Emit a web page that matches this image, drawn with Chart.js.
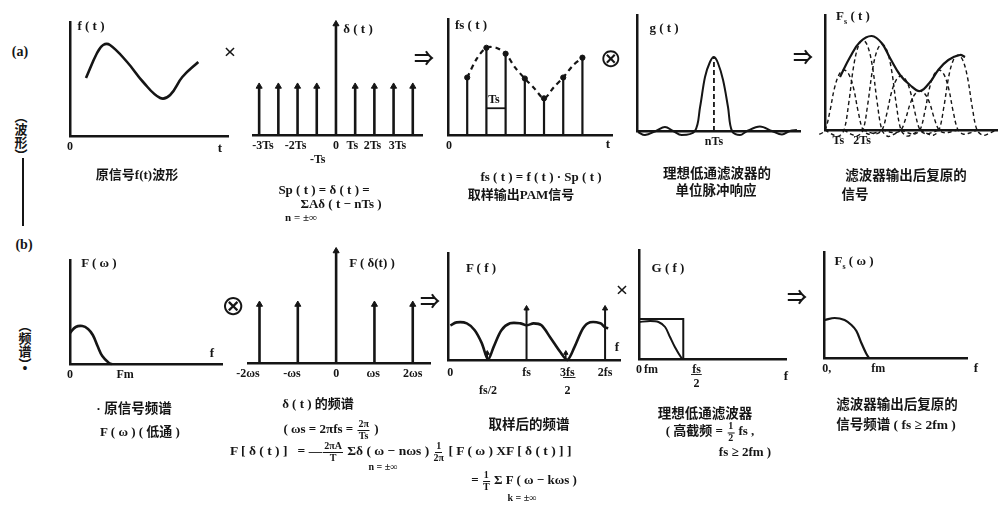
<!DOCTYPE html>
<html>
<head>
<meta charset="utf-8">
<script src="https://cdn.jsdelivr.net/npm/chart.js@4.4.1/dist/chart.umd.min.js"></script>
<style>
  body { margin: 0; width: 1003px; height: 506px; background: #fff; position: relative; overflow: hidden; color: #151515; }
  canvas { position: absolute; }
  .t { position: absolute; transform: translate(-50%, -50%); white-space: nowrap; line-height: 1;
       font: bold 13px 'Liberation Serif', 'Noto Sans CJK SC', serif; }
  .t.left { transform: translate(0, -50%); }
  .t.op { font-family: 'DejaVu Sans'; font-weight: normal; }
  .fr { display: inline-flex; flex-direction: column; align-items: center; vertical-align: middle;
        font-size: 10px; line-height: 1.05; margin: 0 1px; }
  .fr > span:first-child { border-bottom: 1.3px solid #151515; padding: 0 1px; }
  .vt { writing-mode: vertical-rl; font-family: 'Noto Sans CJK SC'; }
</style>
</head>
<body>
<script>
// ---- (a) 波形 ----
const a1T = [0.84, 1.42, 1.74, 2.1, 3.0, 3.84, 4.74, 5.26, 5.9, 6.74];
const a1F = [58, 83, 91, 91, 74, 54, 38, 41, 59, 74];

const a2N = [-4, -3, -2, -1, 0, 1, 2, 3, 4];
const a2H = [49, 49, 49, 49, 112, 49, 49, 49, 49];
const a2TickPos = [-3.8, -2.1, -0.95, 0, 0.85, 1.9, 3.2];
const a2TickLab = ['-3Ts', '-2Ts', ['', '-Ts'], '0', 'Ts', '2Ts', '3Ts'];

const a3N = [1, 2, 3, 4, 5, 6, 7];
const a3H = [58, 88, 82, 57, 37, 58, 78];
const a3EnvT = [1, 1.5, 2, 2.5, 3, 3.5, 4, 4.5, 5, 5.5, 6, 6.5, 7];
const a3EnvH = [58, 77, 88, 88, 82, 68, 57, 47, 37, 48, 58, 70, 78];

const a4T = [0.05, 0.42, 1.0, 1.47, 1.9, 2.35, 3.05, 3.32, 3.58, 3.84, 4.05, 4.26, 4.53, 4.79, 5.0, 5.42, 5.79, 6.47, 7.1, 7.63, 8.05, 8.42];
const a4G = [-1, -4, 0, 4, 0, -4, 0, 24, 54, 69, 74, 68, 51, 24, 0, -4, 0, 4.5, 0, -3.5, 0, 1];

const a5EnvT = [0.79, 1.32, 1.84, 2.46, 2.98, 3.42, 3.95, 4.47, 5.0, 5.53, 5.96, 6.49, 7.1, 7.37];
const a5EnvH = [53, 73, 88, 94, 87, 72, 55, 45, 39, 48, 60, 70, 75, 73];
const a5N = [1, 2, 3, 4, 5, 6, 7];
const a5H = [60, 90, 86, 54, 39, 60, 75];
// 单位脉冲响应的形状 (读自 g(t) 图)
const pulseOff = [-2, -1.6, -1.3, -1, -0.75, -0.5, -0.25, 0, 0.25, 0.5, 0.75, 1, 1.3, 1.6, 2];
const pulseRel = [0, -0.05, -0.07, 0, 0.3, 0.7, 0.93, 1, 0.93, 0.7, 0.3, 0, -0.07, -0.05, 0];

// ---- (b) 频谱 ----
const b1F = [0, 0.3, 0.65, 0.95, 1.2, 1.45, 1.7, 2.05, 2.2];
const b1A = [31, 37, 38, 35, 29, 18, 8, 1, 0];

const b2N = [-2, -1, 0, 1, 2];
const b2H = [59, 59, 113, 59, 59];
const b2TickPos = [-2.3, -1.15, 0, 0.97, 2];
const b2TickLab = ['-2ωs', '-ωs', '0', 'ωs', '2ωs'];

const b3F = [0.03, 0.11, 0.24, 0.34, 0.43, 0.51, 0.58, 0.68, 0.79, 0.92, 1.0, 1.09, 1.19, 1.3, 1.43, 1.52, 1.61, 1.72, 1.81, 1.94, 2.0, 2.04];
const b3A = [35, 38, 37, 30, 17, 0.5, 13, 30, 37, 37, 35, 37, 35, 23, 8, 0, 13, 32, 38, 37, 33, 32];
const b3Imp = [1, 2];
const b3ImpH = [52, 52];
const b3Mark = [0.5, 1.5];
const b3MarkH = [7, 7];
const b3TickPos = [0.03, 0.51, 1.0, 1.52, 2.0];
const b3TickLab = ['0', ['', 'fs/2'], 'fs', ['3\u0332f\u0332s\u0332', '2'], '2fs'];

const b4RectF = [0, 1, 1];
const b4RectA = [40, 40, 0];
const b4F = [0, 0.25, 0.44, 0.59, 0.7, 0.81, 0.96, 1.0];
const b4A = [37, 38, 37, 32, 22, 12, 1, 0];
const b4TickPos = [0, 0.27, 1.3];
const b4TickLab = ['0', 'fm', ['f\u0332s\u0332', '2']];

const b5F = [0.04, 0.56, 1.08, 1.44, 1.7, 1.96, 2.2, 2.36];
const b5A = [38, 40, 38, 33, 27, 15, 5, 0];

const INK = '#151515';
Chart.defaults.font.family = "'Liberation Serif', 'DejaVu Serif', serif";
Chart.defaults.font.weight = 'bold';
Chart.defaults.font.size = 12;
Chart.defaults.color = INK;
Chart.defaults.animation = false;
Chart.defaults.plugins.legend.display = false;
Chart.defaults.plugins.tooltip.enabled = false;

function curve(xs, ys, opt) {
  return Object.assign({
    data: xs.map((x, i) => ({ x: x, y: ys[i] })),
    borderColor: INK, borderWidth: 2.3, tension: 0.4, pointRadius: 0, fill: false, clip: false
  }, opt || {});
}
function stems(xs, ys, opt) {
  const d = [];
  xs.forEach((x, i) => { d.push({ x: x, y: 0 }, { x: x, y: ys[i] }, { x: x, y: null }); });
  return Object.assign({ data: d, borderColor: INK, borderWidth: 2.6, tension: 0, pointRadius: 0, clip: false }, opt || {});
}
function tips(xs, ys, style, r) {
  return {
    data: xs.map((x, i) => ({ x: x, y: ys[i] })), showLine: false,
    pointStyle: style || 'triangle', pointRadius: r || 3.5,
    backgroundColor: INK, borderColor: INK, borderWidth: 1, clip: false
  };
}

// 每个小图一个 canvas, 绘图区 = 坐标轴所在位置
function panel(g, xMin, xMax, yMax, datasets, tickPos, tickLab, opt) {
  opt = opt || {};
  const padL = 24, padR = 12, padT = 4, axisH = 44;
  const cv = document.createElement('canvas');
  cv.width = g.r - g.l + padL + padR;
  cv.height = g.b - g.t + padT + axisH;
  cv.style.left = (g.l - padL) + 'px';
  cv.style.top = (g.t - padT) + 'px';
  document.body.appendChild(cv);
  new Chart(cv, {
    type: 'line',
    data: { datasets: datasets },
    options: {
      responsive: false,
      devicePixelRatio: 1,
      layout: { padding: { left: padL, right: padR, top: padT, bottom: 0 } },
      scales: {
        x: {
          type: 'linear', min: xMin, max: xMax,
          grid: { display: false, drawTicks: false },
          border: { display: true, color: INK, width: 2.5 },
          afterBuildTicks: ax => { ax.ticks = tickPos.map(v => ({ value: v })); },
          afterFit: s => { s.height = axisH; },
          ticks: {
            autoSkip: false, maxRotation: 0, padding: 4,
            font: { lineHeight: opt.lineHeight || 1.15 },
            callback: (v, i) => tickLab[i]
          }
        },
        y: {
          min: 0, max: yMax,
          grid: { display: false, drawTicks: false },
          ticks: { display: false },
          border: { display: opt.yAxis !== false, color: INK, width: 2.5 },
          afterFit: s => { s.width = 0; }
        }
      }
    }
  });
}

// (a) 行
panel({ l: 70, r: 228, t: 22, b: 136 }, 0, 8.3, 114,
  [curve(a1T, a1F, { borderWidth: 2.6 })], [0], ['0']);

panel({ l: 253, r: 422, t: 23, b: 135 }, -4.32, 4.48, 112,
  [stems(a2N, a2H), tips(a2N, a2H, 'triangle', 3.5)], a2TickPos, a2TickLab, { yAxis: false });

panel({ l: 448, r: 612, t: 18, b: 135 }, 0, 8.54, 117,
  [stems(a3N, a3H, { borderWidth: 2.2 }),
   curve(a3EnvT, a3EnvH, { borderDash: [5, 4], borderWidth: 2.2, tension: 0.3 }),
   tips(a3N, a3H, 'circle', 2.6),
   curve([2, 3], [27, 27], { borderWidth: 1.8, tension: 0 })],
  [0.05], ['0']);

panel({ l: 637, r: 800, t: 15, b: 131 }, 0, 8.58, 116,
  [curve(a4T, a4G, { borderWidth: 2, tension: 0.35 }),
   curve([4.05, 4.05], [0, 74], { borderDash: [5, 3], borderWidth: 1.8, tension: 0 })],
  [4.05], ['nTs']);

const a5Pulses = a5N.map((n, i) => curve(pulseOff.map(o => n + o), pulseRel.map(r => r * a5H[i]),
  { borderDash: [4, 3], borderWidth: 1.4, tension: 0.35 }));
panel({ l: 825, r: 997, t: 15, b: 130 }, 0, 9.05, 115,
  [curve(a5EnvT, a5EnvH, { borderWidth: 2.2 })].concat(a5Pulses),
  [0.7, 1.95], ['Ts', '2Ts']);

// (b) 行
panel({ l: 70, r: 222, t: 260, b: 364 }, 0, 8, 104,
  [curve(b1F, b1A, { borderWidth: 2.6 })], [0, 2.9], ['0', 'Fm']);

panel({ l: 248, r: 430, t: 250, b: 363 }, -2.3, 2.45, 113,
  [stems(b2N, b2H), tips(b2N, b2H, 'triangle', 3.5)], b2TickPos, b2TickLab, { yAxis: false });

panel({ l: 448, r: 620, t: 252, b: 360 }, 0, 2.19, 108,
  [curve(b3F, b3A, { borderWidth: 2.6, tension: 0.3 }),
   stems(b3Imp, b3ImpH, { borderWidth: 2 }), tips(b3Imp, b3ImpH, 'triangle', 3),
   stems(b3Mark, b3MarkH, { borderWidth: 1.5 }), tips(b3Mark, b3MarkH, 'triangle', 2.5)],
  b3TickPos, b3TickLab, { lineHeight: 1.5 });

panel({ l: 639, r: 786, t: 250, b: 359 }, 0, 3.32, 109,
  [curve(b4RectF, b4RectA, { borderWidth: 2, tension: 0 }),
   curve(b4F, b4A, { borderWidth: 2, tension: 0.3 })],
  b4TickPos, b4TickLab);

panel({ l: 824, r: 967, t: 252, b: 358 }, 0, 7.5, 106,
  [curve(b5F, b5A, { borderWidth: 2.2, tension: 0.35 })], [0.15, 2.85], ['0,', 'fm']);

// 文字
function lab(html, x, y, size, cls) {
  const d = document.createElement('div');
  d.className = 't' + (cls ? ' ' + cls : '');
  d.innerHTML = html;
  d.style.left = x + 'px';
  d.style.top = y + 'px';
  if (size) d.style.fontSize = size + 'px';
  document.body.appendChild(d);
}
const fr = (a, b) => '<span class="fr"><span>' + a + '</span><span>' + b + '</span></span>';

lab('(a)', 20, 52, 14);
lab('(b)', 24, 245, 14);
lab('（波形）', 21, 136, 13, 'vt');
lab('（频谱）', 25, 345, 13, 'vt');
lab('•', 25, 369, 14);
const bar = document.createElement('div');
bar.style.cssText = 'position:absolute;left:22px;top:158px;width:2px;height:68px;background:' + INK;
document.body.appendChild(bar);

lab('×', 230, 52, 22);
lab('⇒', 424, 57, 20);
lab('⊗', 611, 58, 26, 'op');
lab('⇒', 803, 56, 20);
lab('⊗', 233, 305, 28, 'op');
lab('⇒', 430, 300, 20);
lab('×', 622, 290, 22);
lab('⇒', 797, 296, 20);

// 轴标记
lab('f ( t )', 91, 26);
lab('t', 220, 148);
lab('δ ( t )', 358, 29);
lab('fs ( t )', 471, 25);
lab('t', 608, 144);
lab('Ts', 494, 99, 12);
lab('g ( t )', 664, 28);
lab('F<sub style="font-size:8px">s</sub> ( t )', 853, 17);
lab('F ( ω )', 99, 263);
lab('f', 212, 353);
lab('F ( δ(t) )', 372, 263);
lab('F ( f )', 481, 268);
lab('f', 617, 347);
lab('G ( f )', 668, 268);
lab('f', 786, 376);
lab('F<sub style="font-size:8px">s</sub> ( ω )', 854, 262);
lab('f', 976, 368);

// 图注
lab('原信号f(t)波形', 137, 173, 13);
lab('Sp ( t ) = δ ( t ) =', 324, 190);
lab('ΣAδ ( t − nTs )', 341, 204);
lab('n = ±∞', 301, 217, 11);
lab('fs ( t ) = f ( t ) · Sp ( t )', 541, 177);
lab('取样输出PAM信号', 521, 193, 13);
lab('理想低通滤波器的', 717, 172, 13.5);
lab('单位脉冲响应', 716, 189, 13.5);
lab('滤波器输出后复原的', 906, 174, 13.5);
lab('信号', 855, 193, 13.5);

lab('· 原信号频谱', 134, 407, 13.5);
lab('F ( ω ) ( 低通 )', 140, 430);
lab('δ ( t ) 的频谱', 318, 402);
lab('( ωs = 2πfs = ' + fr('2π', 'Ts') + ' )', 331, 430);
lab('F [ δ ( t ) ] &nbsp;&nbsp;= —' + fr('2πA', 'T') + ' Σδ ( ω − nωs ) ' + fr('1', '2π') +
    ' [ F ( ω ) XF [ δ ( t ) ] ]', 230, 452, 13.5, 'left');
lab('n = ±∞', 383, 466, 10);
lab('= ' + fr('1', 'T') + ' Σ F ( ω − kωs )', 524, 481);
lab('k = ±∞', 522, 497, 10);
lab('取样后的频谱', 529, 423, 13.5);
lab('理想低通滤波器', 705, 412, 13.5);
lab('( 高截频 = ' + fr('1', '2') + ' fs ,', 710, 432);
lab('fs ≥ 2fm )', 745, 452);
lab('滤波器输出后复原的', 897, 403, 13.5);
lab('信号频谱 ( fs ≥ 2fm )', 896, 423, 13.5);
</script>
</body>
</html>
